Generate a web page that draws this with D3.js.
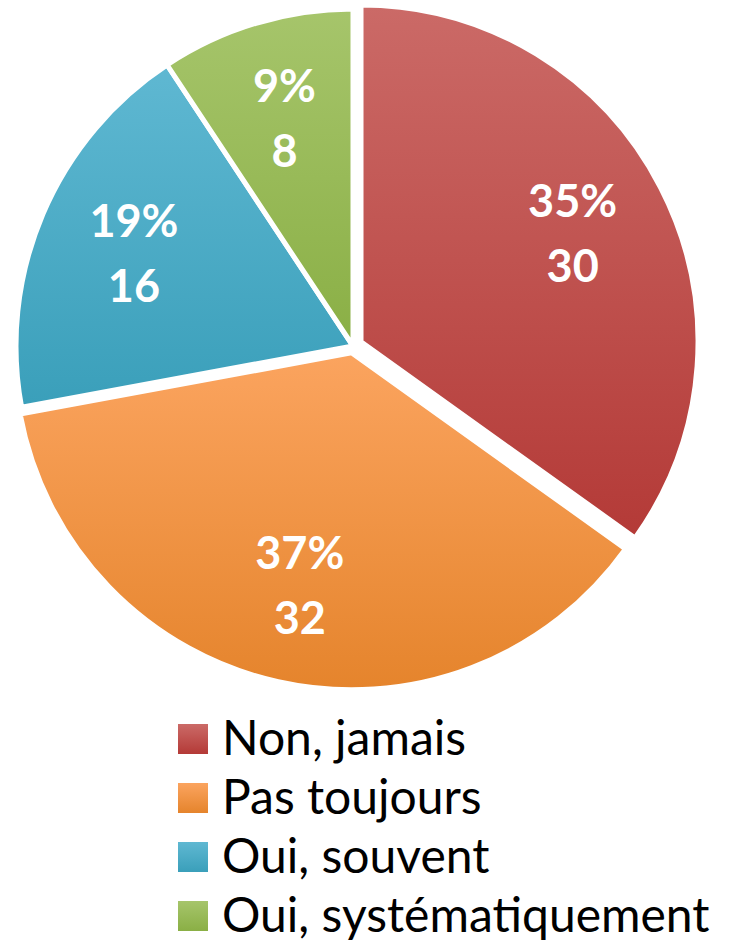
<!DOCTYPE html>
<html>
<head>
<meta charset="utf-8">
<script src="https://cdn.jsdelivr.net/npm/d3@7"></script>
<style>
  html, body { margin: 0; padding: 0; background: #ffffff; }
  svg { display: block; }
</style>
</head>
<body>
<svg id="chart" width="736" height="941"></svg>
<script>
// ---- data ----
const categories = ["Non, jamais", "Pas toujours", "Oui, souvent", "Oui, systématiquement"];
const values = [30, 32, 16, 8];

// ---- style ----
const gradientStops = [
  ["#cb6a67", "#b43a37"],
  ["#fba45f", "#e5842c"],
  ["#5fb8d2", "#3a9fba"],
  ["#a6c56b", "#8aaf45"]
];
const explodeOffsets = [9, 7, 0, 0];

const W = 736, H = 941;
const cx = 353, cy = 346, R = 337;
const labelR = 238;

const svg = d3.select("#chart");
const defs = svg.append("defs");

gradientStops.forEach((s, i) => {
  const g = defs.append("linearGradient")
    .attr("id", "grad" + i)
    .attr("x1", 0).attr("y1", 0).attr("x2", 0).attr("y2", 1);
  g.append("stop").attr("offset", "0%").attr("stop-color", s[0]);
  g.append("stop").attr("offset", "100%").attr("stop-color", s[1]);
});

const total = d3.sum(values);
const pie = d3.pie().sort(null).value(d => d)(values);
const arc = d3.arc().innerRadius(0).outerRadius(R);
const labelArc = d3.arc().innerRadius(labelR).outerRadius(labelR);

const g = svg.append("g").attr("transform", `translate(${cx},${cy})`);

const slices = g.selectAll("g.slice").data(pie).enter().append("g")
  .attr("class", "slice")
  .attr("transform", (d, i) => {
    const a = (d.startAngle + d.endAngle) / 2;
    const o = explodeOffsets[i];
    return `translate(${o * Math.sin(a)},${-o * Math.cos(a)})`;
  });

slices.append("path")
  .attr("d", arc)
  .attr("fill", (d, i) => `url(#grad${i})`)
  .attr("stroke", "#ffffff")
  .attr("stroke-width", 5)
  .attr("stroke-linejoin", "round");

const labels = slices.append("text")
  .attr("text-anchor", "middle")
  .attr("fill", "#ffffff")
  .style("font-family", "Lato, 'Open Sans', sans-serif")
  .style("font-weight", "bold")
  .style("font-size", "45px");

labels.each(function(d, i) {
  const [lx, ly] = labelArc.centroid(d);
  const t = d3.select(this);
  t.append("tspan").attr("x", lx).attr("y", ly - 16)
    .text(Math.round(d.value / total * 100) + "%");
  t.append("tspan").attr("x", lx).attr("y", ly + 49)
    .text(d.value);
});

// ---- legend ----
const legendX = 178, legendY0 = 739, legendStep = 59, sq = 30;
const legend = svg.append("g");
const items = legend.selectAll("g").data(categories).enter().append("g")
  .attr("transform", (d, i) => `translate(${legendX},${legendY0 + i * legendStep})`);

items.append("rect")
  .attr("x", 0).attr("y", -sq / 2)
  .attr("width", sq).attr("height", sq)
  .attr("fill", (d, i) => `url(#grad${i})`);

items.append("text")
  .attr("x", 44).attr("y", 16)
  .attr("fill", "#000000")
  .style("font-family", "Lato, 'Open Sans', sans-serif")
  .style("font-size", "48px")
  .text(d => d);
</script>
</body>
</html>
